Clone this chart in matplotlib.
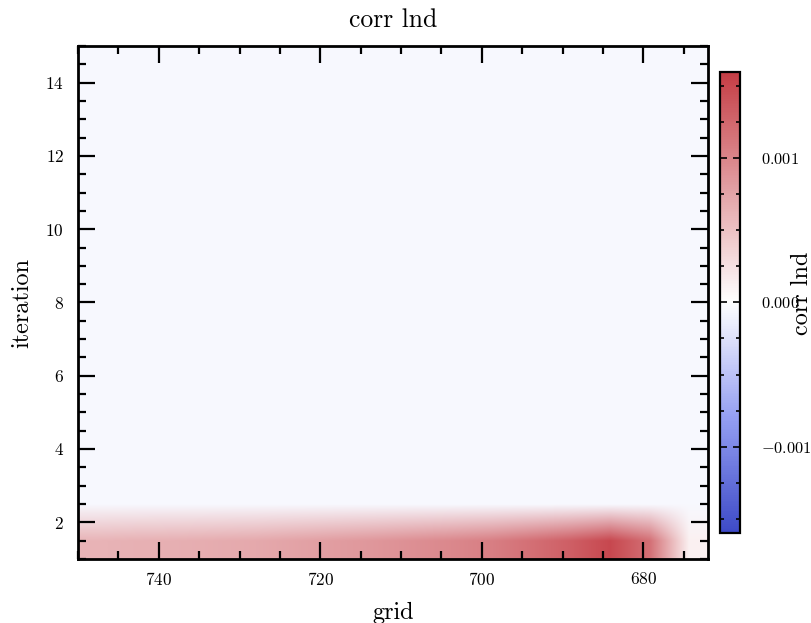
import numpy as np
import matplotlib
matplotlib.use("Agg")
import matplotlib.pyplot as plt
from matplotlib.colors import LinearSegmentedColormap
from matplotlib.ticker import MultipleLocator

plt.rcParams['font.family'] = ['cmr10', 'DejaVu Serif']
plt.rcParams['mathtext.fontset'] = 'cm'
plt.rcParams['axes.formatter.use_mathtext'] = True
plt.rcParams['axes.unicode_minus'] = True

# ---- data ----
title = "corr lnd"
x_label = "grid"
y_label = "iteration"
cbar_label = "corr lnd"
grid_start, grid_end = 750, 672
iter_start, iter_end = 1, 15
# iteration 1 values across the grid (left -> right, 750 -> 672)
iter1_values = [0.00062, 0.00064, 0.00066, 0.00068, 0.00071, 0.00075, 0.00080, 0.00086,
                0.00092, 0.00098, 0.00106, 0.00118, 0.00132, 0.00150, 0.00118, 0.00012]
# iteration 2 values
iter2_values = [-0.00006, -0.00006, -0.00006, -0.00006, -0.00006, -0.00006, -0.00006, -0.00006,
                -0.00006, -0.00006, -0.00006, -0.00006, -0.00006, -0.00006, -0.00006, -0.00006]
background_value = -0.00006
n_iter_rows = 14
vmin, vmax = -0.0016, 0.0016
cbar_ticks = [-0.001, 0.0, 0.001]

data = np.full((n_iter_rows, len(iter1_values)), background_value)
data[0, :] = iter1_values
data[1, :] = iter2_values

cmap = LinearSegmentedColormap.from_list(
    "bwr_soft", [(0.0, (0.24, 0.29, 0.78)), (0.25, (0.58, 0.62, 0.95)),
                 (0.5, (1.0, 1.0, 1.0)), (1.0, (0.77, 0.24, 0.27))])

fig = plt.figure(figsize=(8.12, 6.23), dpi=100)
ax = fig.add_axes([0.096, 0.103, 0.776, 0.823])
im = ax.imshow(data, origin='lower', aspect='auto', cmap=cmap, vmin=vmin, vmax=vmax,
               extent=[grid_start, grid_end, iter_start, iter_end],
               interpolation='bilinear', interpolation_stage='rgba')
ax.set_xlim(grid_start, grid_end)
ax.set_ylim(iter_start, iter_end)
ax.xaxis.set_major_locator(MultipleLocator(20))
ax.xaxis.set_minor_locator(MultipleLocator(5))
ax.yaxis.set_major_locator(MultipleLocator(2))
ax.yaxis.set_minor_locator(MultipleLocator(0.5))
ax.tick_params(which='both', direction='in', top=True, right=True, width=1.6, labelsize=12.5)
ax.tick_params(which='major', length=12)
ax.tick_params(which='minor', length=6)
ax.tick_params(axis='x', which='major', pad=9)
ax.tick_params(axis='y', which='major', pad=10)
for s in ax.spines.values():
    s.set_linewidth(2.0)
ax.set_title(title, fontsize=18.5, pad=14)
ax.set_xlabel(x_label, fontsize=17.5, labelpad=10)
ax.set_ylabel(y_label, fontsize=17.5, labelpad=9)

cax = fig.add_axes([0.887, 0.1445, 0.024, 0.74])
cb = fig.colorbar(im, cax=cax, ticks=cbar_ticks)
cb.ax.yaxis.set_minor_locator(MultipleLocator(0.00025))
cb.ax.tick_params(which='both', direction='in', left=True, right=True, width=1.2, labelsize=11.8)
cb.ax.tick_params(which='major', length=5, pad=15)
cb.ax.tick_params(which='minor', length=3)
cb.outline.set_linewidth(1.6)
cb.ax.yaxis.set_major_formatter(matplotlib.ticker.FuncFormatter(
    lambda v, p: "$\\mathdefault{%s}$" % (("%.3f" % v).replace("-", "\u2212") if abs(v) > 1e-12 else "0.000")))
cb.set_label(cbar_label, fontsize=17.5)
cb.ax.yaxis.set_label_coords(3.6, 0.52)

fig.savefig("out.png", dpi=100)
